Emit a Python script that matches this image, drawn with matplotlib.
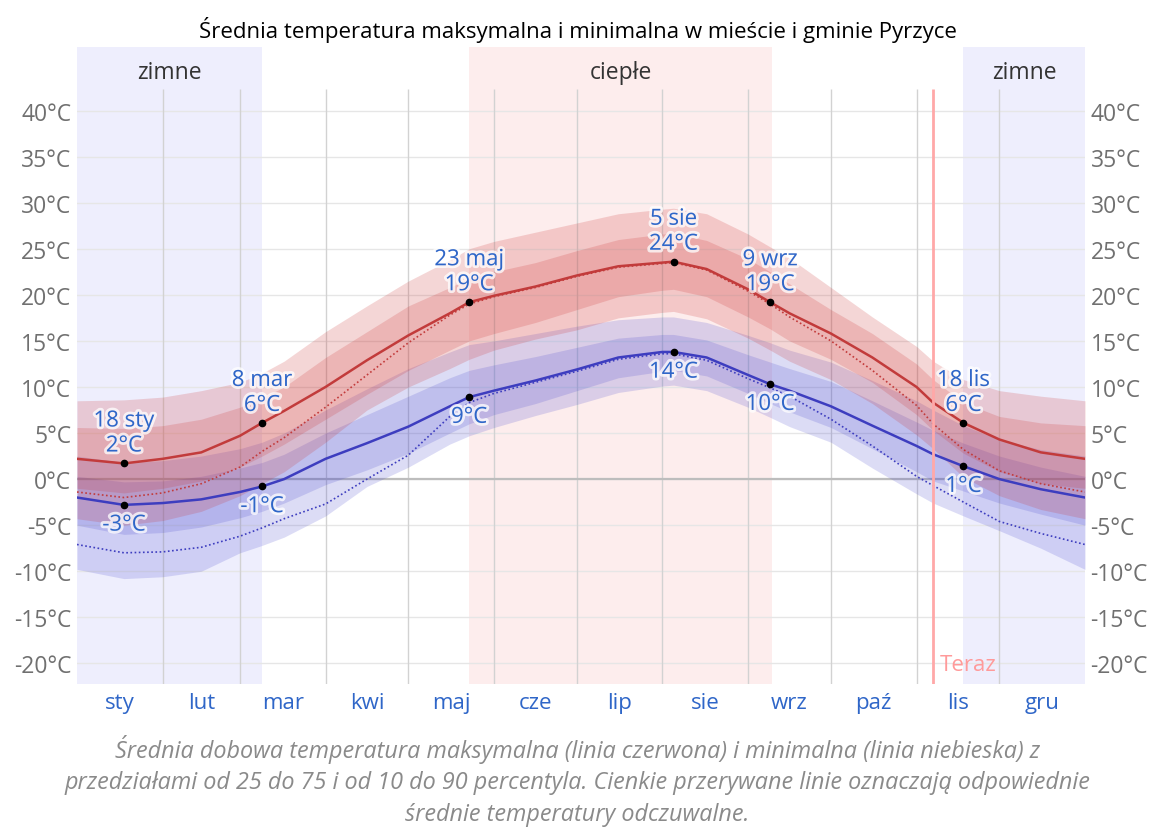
import numpy as np
import matplotlib
matplotlib.use("Agg")
import matplotlib.pyplot as plt
import matplotlib.patheffects as pe

# day of year for each sample point
days = [0, 17, 31, 45, 59, 67, 75, 90, 105, 120, 135, 142, 151, 166, 181,
        196, 212, 216, 228, 243, 251, 258, 273, 288, 304, 310, 321, 334,
        349, 365]

# average daily high and its percentiles
hi_mean = [2.2, 1.7, 2.2, 2.9, 4.7, 6.1, 7.4, 10.0, 12.9, 15.6, 18.0, 19.2,
           19.9, 20.9, 22.1, 23.1, 23.5, 23.6, 22.8, 20.6, 19.2, 18.0, 15.8,
           13.2, 10.0, 8.3, 6.1, 4.3, 2.9, 2.2]
hi_p90 = [8.5, 8.6, 8.9, 9.6, 10.5, 11.5, 12.8, 16.0, 18.8, 21.5, 23.8, 25.0,
          25.8, 26.8, 27.8, 28.8, 29.3, 29.4, 28.8, 26.6, 25.2, 24.0, 20.8,
          17.6, 14.4, 12.8, 10.8, 9.6, 9.0, 8.5]
hi_p75 = [5.6, 5.5, 5.8, 6.5, 7.8, 8.8, 10.0, 13.2, 16.0, 18.8, 20.8, 21.8,
          22.5, 23.5, 24.8, 26.0, 26.6, 26.7, 25.9, 23.9, 22.5, 21.2, 18.4,
          15.8, 12.5, 10.8, 8.3, 6.8, 6.1, 5.8]
hi_p25 = [-1.0, -1.5, -1.0, -0.2, 1.3, 2.5, 3.8, 6.5, 9.2, 11.8, 14.0, 15.0,
          15.8, 17.0, 18.4, 19.8, 20.5, 20.6, 19.8, 17.6, 16.3, 15.0, 13.0,
          10.5, 7.0, 5.3, 2.8, 0.8, -0.5, -1.0]
hi_p10 = [-4.3, -5.0, -4.5, -3.5, -1.8, -0.5, 0.8, 4.0, 7.5, 10.0, 12.0, 13.0,
          14.0, 15.2, 16.2, 17.5, 18.1, 18.2, 17.4, 15.3, 14.0, 12.8, 10.8,
          8.2, 4.8, 3.3, 0.2, -1.8, -3.3, -4.3]
hi_feel = [-1.4, -2.0, -1.5, -0.5, 1.3, 3.0, 4.5, 7.8, 11.3, 14.8, 17.8, 19.0,
           19.8, 20.8, 22.0, 23.0, 23.4, 23.5, 22.7, 20.4, 19.0, 17.6, 15.0,
           11.8, 8.0, 6.0, 3.2, 0.9, -0.5, -1.4]

# average daily low and its percentiles
lo_mean = [-2.0, -2.8, -2.6, -2.2, -1.4, -0.8, 0.0, 2.2, 3.9, 5.7, 7.9, 8.9,
           9.6, 10.7, 11.9, 13.2, 13.8, 13.8, 13.2, 11.3, 10.3, 9.6, 7.9,
           5.8, 3.6, 2.7, 1.4, 0.0, -1.1, -2.0]
lo_p90 = [2.5, 1.8, 2.0, 2.5, 3.3, 4.0, 5.0, 7.5, 9.8, 12.0, 13.8, 14.6, 15.0,
          15.8, 16.6, 17.3, 17.6, 17.6, 17.0, 15.6, 14.8, 14.0, 12.7, 10.7,
          8.5, 7.5, 5.8, 4.3, 3.2, 2.5]
lo_p75 = [0.3, -0.3, -0.2, 0.3, 1.2, 1.8, 2.7, 5.0, 7.0, 9.0, 11.0, 11.8,
          12.4, 13.3, 14.3, 15.3, 15.7, 15.7, 15.1, 13.5, 12.7, 12.0, 10.6,
          8.5, 6.2, 5.3, 3.9, 2.5, 1.3, 0.3]
lo_p25 = [-5.0, -6.0, -5.8, -5.2, -4.2, -3.5, -2.6, -0.6, 1.0, 2.8, 5.0, 6.0,
          7.0, 8.2, 9.6, 11.0, 11.7, 11.8, 11.2, 9.3, 8.2, 7.3, 5.6, 3.3,
          0.8, -0.2, -1.3, -2.6, -3.8, -5.0]
lo_p10 = [-9.8, -10.8, -10.6, -10.0, -8.0, -7.2, -6.3, -4.0, -0.8, 1.3, 3.8,
          4.7, 5.6, 6.9, 8.1, 9.4, 10.1, 10.2, 9.6, 7.8, 6.7, 5.7, 4.0, 1.2,
          -1.6, -2.6, -4.0, -5.6, -7.5, -9.8]
lo_feel = [-7.1, -8.0, -7.9, -7.4, -6.2, -5.3, -4.3, -2.7, 0.0, 2.6, 6.8, 8.3,
           9.3, 10.5, 11.7, 13.0, 13.6, 13.6, 12.9, 10.9, 9.9, 9.0, 6.5, 3.6,
           0.3, -0.7, -2.5, -4.6, -5.9, -7.1]

# labelled points
hi_marks = [(17, "18 sty"), (67, "8 mar"), (142, "23 maj"), (216, "5 sie"),
            (251, "9 wrz"), (321, "18 lis")]
lo_marks = [17, 67, 142, 216, 251, 321]

month_edges = [0, 31, 59, 90, 120, 151, 181, 212, 243, 273, 304, 334, 365]
month_names = ["sty", "lut", "mar", "kwi", "maj", "cze", "lip", "sie", "wrz",
               "paź", "lis", "gru"]
y_ticks = [-20, -15, -10, -5, 0, 5, 10, 15, 20, 25, 30, 35, 40]

cold_seasons = [(0, 67), (321, 365)]
warm_season = (142, 251.7)
today = 310

FONT = ["Open Sans", "DejaVu Sans"]
BLUE_TXT = "#2f66c8"
RED = "#c23b3b"
BLUE = "#3d3dbf"


def value_at(series, day):
    return series[days.index(day)]


def draw(ax):
    y_top_grid = 42.3
    y_min, y_max = -22.24, 46.9
    ax.set_xlim(0, 365)
    ax.set_ylim(y_min, y_max)

    for a, b in cold_seasons:
        ax.axvspan(a, b, color="#eeeefd", zorder=0, lw=0)
    ax.axvspan(warm_season[0], warm_season[1], color="#fdeded", zorder=0,
               lw=0)

    for t in y_ticks:
        ax.axhline(t, color="#e6e6e6", lw=1, zorder=0.5)
    ax.axhline(0, color="#bdbdbd", lw=1.6, zorder=0.6)
    ax.vlines(month_edges[1:-1], y_min, y_top_grid, color="#d2d2d2", lw=1,
              zorder=0.5)

    # percentile bands
    ax.fill_between(days, lo_p10, lo_p90, color=(0.25, 0.25, 0.8),
                    alpha=0.18, lw=0, zorder=1)
    ax.fill_between(days, lo_p25, lo_p75, color=(0.25, 0.25, 0.8),
                    alpha=0.18, lw=0, zorder=1)
    ax.fill_between(days, hi_p10, hi_p90, color=(0.8, 0.2, 0.2), alpha=0.2,
                    lw=0, zorder=1)
    ax.fill_between(days, hi_p25, hi_p75, color=(0.8, 0.2, 0.2), alpha=0.2,
                    lw=0, zorder=1)

    ax.plot(days, hi_feel, color=RED, lw=1.2, ls=(0, (1, 1.5)), zorder=2)
    ax.plot(days, lo_feel, color=BLUE, lw=1.2, ls=(0, (1, 1.5)), zorder=2)
    ax.plot(days, hi_mean, color=RED, lw=1.8, zorder=2.5)
    ax.plot(days, lo_mean, color=BLUE, lw=1.8, zorder=2.5)

    ax.vlines(today, y_min, y_top_grid, color="#ffa8a8", lw=2, zorder=2.6)
    ax.text(today + 2.3, -20.1, "Teraz", color="#ff9a9a", fontsize=16,
            ha="left", va="center", family=FONT, zorder=5)

    halo = [pe.withStroke(linewidth=4, foreground=(1, 1, 1, 0.75))]
    for d, name in hi_marks:
        v = value_at(hi_mean, d)
        ax.plot(d, v, "o", color="black", ms=4.5, zorder=4)
        ax.annotate(f"{name}\n{round(v):d}°C", (d, v), xytext=(0, 5),
                    textcoords="offset points", ha="center", va="bottom",
                    color=BLUE_TXT, fontsize=16, family=FONT,
                    linespacing=1.25, path_effects=halo, zorder=5)
    for d in lo_marks:
        v = value_at(lo_mean, d)
        ax.plot(d, v, "o", color="black", ms=4.5, zorder=4)
        ax.annotate(f"{round(v):d}°C", (d, v), xytext=(0, -7),
                    textcoords="offset points", ha="center", va="top",
                    color=BLUE_TXT, fontsize=16, family=FONT,
                    path_effects=halo, zorder=5)

    season_y = 44.2
    for a, b in cold_seasons:
        ax.text((a + b) / 2, season_y, "zimne", ha="center", va="center",
                fontsize=16.5, color="#333333", family=FONT)
    ax.text(sum(warm_season) / 2, season_y, "ciepłe", ha="center",
            va="center", fontsize=16.5, color="#333333", family=FONT)

    mids = [(month_edges[i] + month_edges[i + 1]) / 2 for i in range(12)]
    ax.set_xticks(mids)
    ax.set_xticklabels(month_names, family=FONT, fontsize=16,
                       color=BLUE_TXT)
    ax.set_yticks(y_ticks)
    ax.set_yticklabels([f"{t}°C" for t in y_ticks], family=FONT,
                       fontsize=16.5, color="#707070")
    ax.tick_params(axis="x", length=0, pad=6)
    ax.tick_params(axis="y", length=0, pad=4, labelleft=True,
                   labelright=True)
    for s in ax.spines.values():
        s.set_visible(False)


def main():
    fig = plt.figure(figsize=(11.55, 8.29), dpi=100)
    ax = fig.add_axes([77 / 1155, 1 - 685 / 829, 1008 / 1155,
                       (685 - 48) / 829])
    draw(ax)
    fig.text(0.5, 1 - 30 / 829, "Średnia temperatura maksymalna i minimalna "
             "w mieście i gminie Pyrzyce", ha="center", va="center",
             fontsize=16, family=FONT, color="black")
    caption = ("Średnia dobowa temperatura maksymalna (linia czerwona) i "
               "minimalna (linia niebieska) z\nprzedziałami od 25 do 75 i od "
               "10 do 90 percentyla. Cienkie przerywane linie oznaczają "
               "odpowiednie\nśrednie temperatury odczuwalne.")
    fig.text(0.5, 1 - 781 / 829, caption, ha="center", va="center",
             fontsize=16.8, style="italic", color="#8a8a8a", family=FONT,
             linespacing=1.42)
    fig.savefig("out.png", dpi=100)


if __name__ == "__main__":
    main()
